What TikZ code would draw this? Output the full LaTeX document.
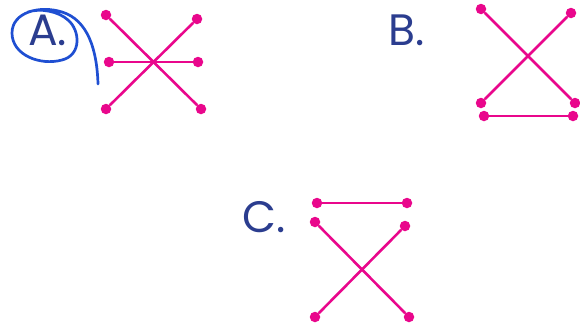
\documentclass[tikz,border=0pt]{standalone}
\usepackage{fontspec}
\setmainfont{Poppins}
\usetikzlibrary{positioning}
\definecolor{pinkline}{HTML}{E9078C}
\definecolor{navy}{HTML}{2B3D8F}
\definecolor{penblue}{HTML}{1F4FD2}

\begin{document}
\begin{tikzpicture}[
    x=1pt, y=-1pt,
    dot/.style={circle,fill=pinkline,minimum size=10.5pt,inner sep=0pt},
    wire/.style={draw=pinkline,line width=2.6pt},
    letter/.style={text=navy,font=\fontsize{44}{44}\selectfont,inner sep=0pt,anchor=base west}
]
\useasboundingbox (0,0) rectangle (580,330);

% option A
\node[letter] (labA) at (28,45) {A.};
\node[dot] (a1) at (106,15) {};
\node[dot] (a2) at (197,19) {};
\node[dot] (a3) at (109,62) {};
\node[dot] (a4) at (198,62) {};
\node[dot] (a5) at (106,109) {};
\node[dot] (a6) at (201,109) {};
\draw[wire] (a1) -- (a6);
\draw[wire] (a2) -- (a5);
\draw[wire] (a3) -- (a4);
% the pen mark round A
\draw[penblue,line width=2.7pt,line cap=round]
    (98,84) .. controls (97,50) and (88,20) .. (62,12)
    .. controls (40,5) and (12,12) .. (12,33)
    .. controls (12,55) and (40,66) .. (62,60)
    .. controls (82,55) and (80,30) .. (68,20)
    .. controls (58,11) and (40,8) .. (28,12);

% option B
\node[letter] (labB) at (388,45) {B.};
\node[dot] (b1) at (481,9) {};
\node[dot] (b2) at (571,13) {};
\node[dot] (b3) at (481,103) {};
\node[dot] (b4) at (575,103) {};
\node[dot] (b5) at (484,116) {};
\node[dot] (b6) at (573,116) {};
\draw[wire] (b1) -- (b4);
\draw[wire] (b2) -- (b3);
\draw[wire] (b5) -- (b6);

% option C
\node[letter] (labC) at (242,232) {C.};
\node[dot] (c1) at (317,203) {};
\node[dot] (c2) at (407,203) {};
\node[dot] (c3) at (315,222) {};
\node[dot] (c4) at (405,226) {};
\node[dot] (c5) at (315,317) {};
\node[dot] (c6) at (409,317) {};
\draw[wire] (c1) -- (c2);
\draw[wire] (c3) -- (c6);
\draw[wire] (c4) -- (c5);
\end{tikzpicture}
\end{document}
